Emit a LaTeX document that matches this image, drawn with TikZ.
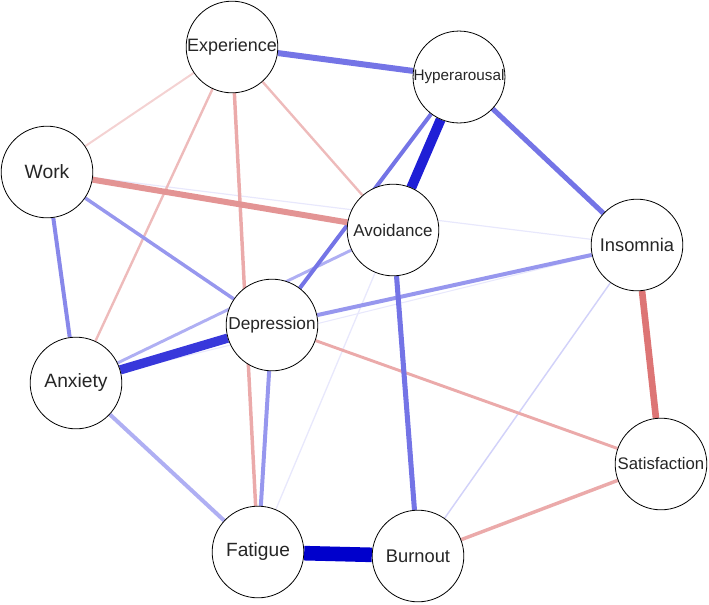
\documentclass[tikz,border=0pt]{standalone}
\usepackage{fontspec}
\setmainfont{Liberation Sans}
\usetikzlibrary{backgrounds}
% edge colours
\definecolor{bluevd}{HTML}{0000CC}
\definecolor{blued}{HTML}{1F1FD6}
\definecolor{bluem}{HTML}{3838DB}
\definecolor{bluea}{HTML}{7474E6}
\definecolor{blueb}{HTML}{8888EA}
\definecolor{bluec}{HTML}{9797EE}
\definecolor{bluel}{HTML}{AFAFF3}
\definecolor{bluef}{HTML}{D2D2F9}
\definecolor{bluex}{HTML}{E8E8FC}
\definecolor{redd}{HTML}{DD7575}
\definecolor{redm}{HTML}{E39494}
\definecolor{redl}{HTML}{EBAAAA}
\definecolor{redf}{HTML}{EEBBBB}
\definecolor{redx}{HTML}{F4D2D2}
\tikzset{
  var/.style={circle, draw=black, fill=white, line width=0.6pt, minimum size=69pt,
    inner sep=0pt, text=black!85, font=\fontsize{13.5}{15}\selectfont},
}
\begin{document}
\begin{tikzpicture}[x=0.02646cm, y=-0.02646cm]
  \useasboundingbox (0,0) rectangle (709,604);
  % variables
  \node[var] (exp) at (232,47) {Experience};
  \node[var, font=\fontsize{11.5}{13}\selectfont] (hyp) at (459,77) {Hyperarousal};
  \node[var, font=\fontsize{14.5}{16}\selectfont] (wrk) at (47,172) {Work};
  \node[var, font=\fontsize{12.8}{15}\selectfont] (avo) at (393,230) {Avoidance};
  \node[var, font=\fontsize{13.8}{15}\selectfont] (ins) at (637,245) {Insomnia};
  \node[var, font=\fontsize{13}{15}\selectfont] (dep) at (272,325) {Depression};
  \node[var, font=\fontsize{14.5}{16}\selectfont] (anx) at (76,383) {Anxiety};
  \node[var, font=\fontsize{14.4}{16}\selectfont] (fat) at (258,552) {Fatigue};
  \node[var, font=\fontsize{13.8}{15}\selectfont] (bur) at (418,556) {Burnout};
  \node[var, font=\fontsize{12.6}{15}\selectfont] (sat) at (661,464) {Satisfaction};
  %
  \begin{scope}[on background layer]
    \foreach \a/\b/\w/\c in {%
      wrk/ins/0.9/bluex, anx/ins/0.8/bluex, fat/avo/1/bluex,
      ins/bur/1.1/bluef, exp/wrk/1.5/redx,
      exp/avo/1.8/redf, exp/anx/1.8/redf, anx/avo/2.2/bluel,
      dep/sat/2.2/redl, bur/sat/2.6/redl, exp/fat/2.6/redl,
      wrk/dep/2.6/bluec, anx/fat/3/bluel, ins/dep/3/bluec,
      dep/fat/3/bluec, wrk/anx/3/blueb, hyp/dep/3/bluea,
      wrk/avo/4.5/redm, ins/sat/5/redd,
      avo/bur/3.8/bluea, hyp/ins/3.8/bluea, exp/hyp/4.5/bluea,
      anx/dep/7/bluem, hyp/avo/7.5/blued, fat/bur/11/bluevd} {%
      \draw[line width=\w pt, color=\c] (\a) -- (\b);
    }
  \end{scope}
\end{tikzpicture}
\end{document}
